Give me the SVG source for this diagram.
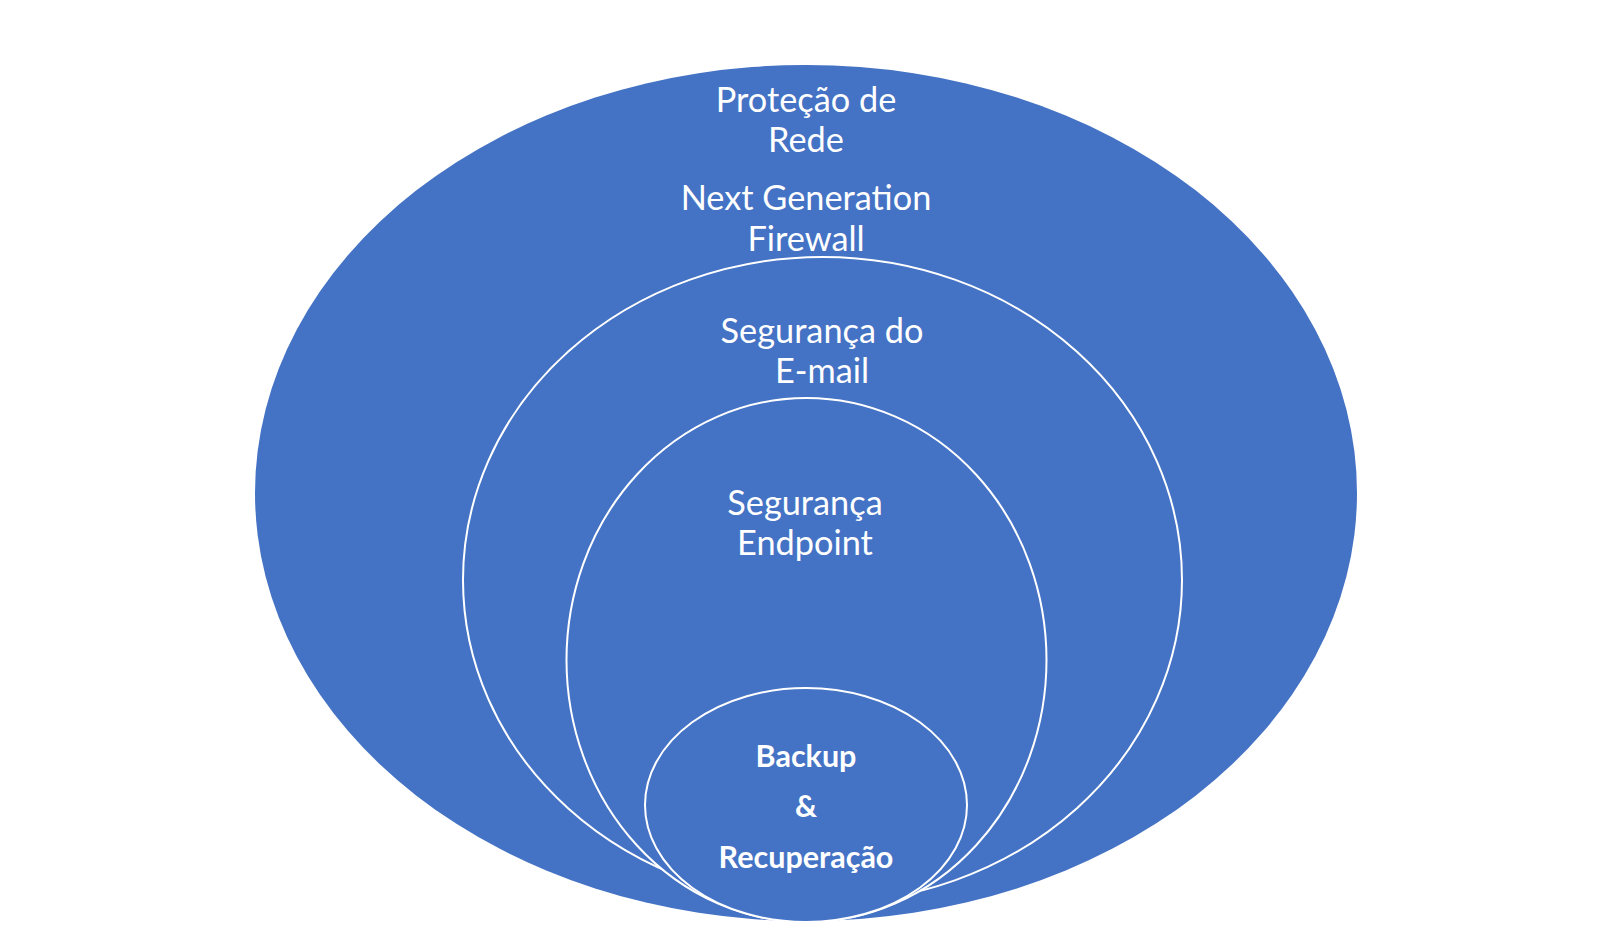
<svg xmlns="http://www.w3.org/2000/svg" width="1612" height="928" viewBox="0 0 1612 928">
<style>
.ring{fill:#4472C4;stroke:#FFFFFF;stroke-width:2}
.outer{fill:#4472C4;stroke:none}
.lbl{font-family:Lato,"Liberation Sans",sans-serif;font-size:34.3px;fill:#FFFFFF;text-anchor:middle}
.bold{font-family:Lato,"Liberation Sans",sans-serif;font-size:30.5px;font-weight:bold;fill:#FFFFFF;text-anchor:middle}
</style>
<rect x="0" y="0" width="1612" height="928" fill="#FFFFFF"/>
<g id="rede">
<ellipse class="outer" cx="806" cy="493" rx="551" ry="428"/>
<text class="lbl" x="806" y="112">Proteção de</text>
<text class="lbl" x="806" y="152">Rede</text>
<text class="lbl" x="806" y="210">Next Generation</text>
<text class="lbl" x="806" y="251">Firewall</text>
</g>
<g id="email">
<ellipse class="ring" cx="822.5" cy="580" rx="359.5" ry="323"/>
<text class="lbl" x="822" y="343">Segurança do</text>
<text class="lbl" x="822" y="383">E-mail</text>
</g>
<g id="endpoint">
<ellipse class="ring" cx="806.5" cy="660" rx="240" ry="262"/>
<text class="lbl" x="805" y="515">Segurança</text>
<text class="lbl" x="805" y="555">Endpoint</text>
</g>
<g id="backup">
<ellipse class="ring" cx="806" cy="805" rx="161" ry="117"/>
<text class="bold" x="806" y="767">Backup</text>
<text class="bold" x="806" y="817">&amp;</text>
<text class="bold" x="806" y="868">Recuperação</text>
</g>
<g id="connectors"/>
</svg>
